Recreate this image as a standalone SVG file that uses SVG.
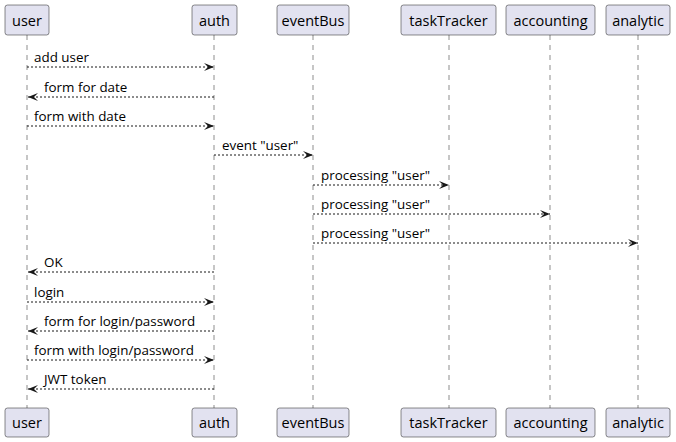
<svg xmlns="http://www.w3.org/2000/svg" width="676" height="442" viewBox="0 0 676 442">
<defs>
<style>
.box{fill:#E2E2F0;stroke:#181818;stroke-width:0.5}
.life{stroke:#181818;stroke-width:0.5;stroke-dasharray:5,5;fill:none}
.msg{stroke:#181818;stroke-width:1;stroke-dasharray:2,2;fill:none}
.pt{font-family:"Open Sans","Liberation Sans",Arial,sans-serif;font-size:14.5px;fill:#000;text-anchor:middle}
.mt{font-family:"Open Sans","Liberation Sans",Arial,sans-serif;font-size:13.4px;fill:#000}
</style>
<marker id="ar" viewBox="0 0 10 8" refX="10" refY="4" markerWidth="10" markerHeight="8" markerUnits="userSpaceOnUse" orient="auto">
<polygon points="0,0 10,4 0,8 4,4" fill="#181818"/>
</marker>
</defs>
<g id="lifelines">
<line class="life" x1="27" y1="35" x2="27" y2="408"/>
<line class="life" x1="214" y1="35" x2="214" y2="408"/>
<line class="life" x1="313" y1="35" x2="313" y2="408"/>
<line class="life" x1="449" y1="35" x2="449" y2="408"/>
<line class="life" x1="550" y1="35" x2="550" y2="408"/>
<line class="life" x1="638" y1="35" x2="638" y2="408"/>
</g>
<g id="p-user">
<rect class="box" x="5" y="5" width="44" height="30" rx="2.5"/><text class="pt" x="27" y="26">user</text>
<rect class="box" x="5" y="408" width="44" height="29" rx="2.5"/><text class="pt" x="27" y="428">user</text>
</g>
<g id="p-auth">
<rect class="box" x="192" y="5" width="45" height="30" rx="2.5"/><text class="pt" x="214.5" y="26">auth</text>
<rect class="box" x="192" y="408" width="45" height="29" rx="2.5"/><text class="pt" x="214.5" y="428">auth</text>
</g>
<g id="p-eventBus">
<rect class="box" x="277" y="5" width="72" height="30" rx="2.5"/><text class="pt" x="313" y="26">eventBus</text>
<rect class="box" x="277" y="408" width="72" height="29" rx="2.5"/><text class="pt" x="313" y="428">eventBus</text>
</g>
<g id="p-taskTracker">
<rect class="box" x="401" y="5" width="95" height="30" rx="2.5"/><text class="pt" x="448.5" y="26">taskTracker</text>
<rect class="box" x="401" y="408" width="95" height="29" rx="2.5"/><text class="pt" x="448.5" y="428">taskTracker</text>
</g>
<g id="p-accounting">
<rect class="box" x="506" y="5" width="89" height="30" rx="2.5"/><text class="pt" x="550.5" y="26">accounting</text>
<rect class="box" x="506" y="408" width="89" height="29" rx="2.5"/><text class="pt" x="550.5" y="428">accounting</text>
</g>
<g id="p-analytic">
<rect class="box" x="606" y="5" width="64" height="30" rx="2.5"/><text class="pt" x="638" y="26">analytic</text>
<rect class="box" x="606" y="408" width="64" height="29" rx="2.5"/><text class="pt" x="638" y="428">analytic</text>
</g>
<g id="connectors">
<line class="msg" x1="27" y1="67" x2="214" y2="67" marker-end="url(#ar)"/>
<text class="mt" x="34" y="62">add user</text>
<line class="msg" x1="214" y1="97" x2="28" y2="97" marker-end="url(#ar)"/>
<text class="mt" x="44" y="92">form for date</text>
<line class="msg" x1="27" y1="126" x2="214" y2="126" marker-end="url(#ar)"/>
<text class="mt" x="34" y="121">form with date</text>
<line class="msg" x1="214" y1="155" x2="313" y2="155" marker-end="url(#ar)"/>
<text class="mt" x="222" y="150">event "user"</text>
<line class="msg" x1="313" y1="185" x2="449" y2="185" marker-end="url(#ar)"/>
<text class="mt" x="321" y="180">processing "user"</text>
<line class="msg" x1="313" y1="214" x2="550" y2="214" marker-end="url(#ar)"/>
<text class="mt" x="321" y="209">processing "user"</text>
<line class="msg" x1="313" y1="243" x2="638" y2="243" marker-end="url(#ar)"/>
<text class="mt" x="321" y="238">processing "user"</text>
<line class="msg" x1="214" y1="272" x2="28" y2="272" marker-end="url(#ar)"/>
<text class="mt" x="44" y="267">OK</text>
<line class="msg" x1="27" y1="302" x2="214" y2="302" marker-end="url(#ar)"/>
<text class="mt" x="34" y="297">login</text>
<line class="msg" x1="214" y1="331" x2="28" y2="331" marker-end="url(#ar)"/>
<text class="mt" x="44" y="326">form for login/password</text>
<line class="msg" x1="27" y1="360" x2="214" y2="360" marker-end="url(#ar)"/>
<text class="mt" x="34" y="355">form with login/password</text>
<line class="msg" x1="214" y1="389" x2="28" y2="389" marker-end="url(#ar)"/>
<text class="mt" x="44" y="384">JWT token</text>
</g>
</svg>
